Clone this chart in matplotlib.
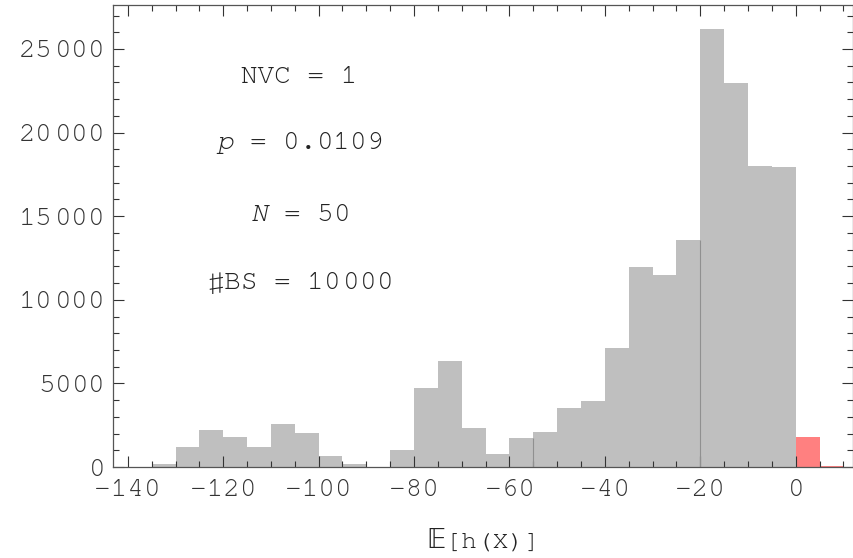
import matplotlib
matplotlib.use("Agg")
import matplotlib.pyplot as plt
from matplotlib.ticker import MultipleLocator, FuncFormatter
import numpy as np

plt.rcParams['font.family'] = ['FreeMono', 'DejaVu Sans']
plt.rcParams['mathtext.fontset'] = 'custom'
plt.rcParams['mathtext.rm'] = 'FreeMono'
plt.rcParams['mathtext.it'] = 'FreeMono:italic'

# Histogram bins (left edges, width 5) and counts
bin_edges = [-140, -135, -130, -125, -120, -115, -110, -105, -100, -95, -90, -85,
             -80, -75, -70, -65, -60, -55, -50, -45, -40, -35, -30, -25, -20,
             -15, -10, -5, 0, 5, 10]
counts = [0, 200, 1200, 2200, 1800, 1200, 2600, 2050, 680, 200, 0, 1000,
          4700, 6340, 2330, 780, 1730, 2090, 3530, 3950, 7120, 11960, 11480, 13580,
          26200, 22970, 18000, 17940, 1790, 60]
highlight_from = 0  # bins with left edge >= 0 are red

labels_text = ["NVC = 1", "$\\it{p}$ = 0.0109", "$\\it{N}$ = 50", "\u266fBS = $10\\,000$"]
text_y = [23300, 19400, 15100, 11000]
text_x = -104

fig = plt.figure(figsize=(8.54, 5.58), dpi=100)
ax = fig.add_axes([113/854, 1-467/558, (853-113)/854, (467-5)/558])

lefts = np.array(bin_edges[:-1], dtype=float)
widths = np.diff(bin_edges)
colors = ['#ff8080' if l >= highlight_from else '#bfbfbf' for l in lefts]
ax.bar(lefts, counts, width=widths, align='edge', color=colors, linewidth=0)

# faint visible edge lines (rendering artifacts in reference)
for e in [-55, -20]:
    i = bin_edges.index(e)
    ax.vlines(e, 0, min(counts[i-1], counts[i]), color='#909090', linewidth=0.8)

ax.set_xlim(-143.1, 12)
ax.set_ylim(0, 27630)

ax.xaxis.set_major_locator(MultipleLocator(20))
ax.xaxis.set_minor_locator(MultipleLocator(5))
ax.yaxis.set_major_locator(MultipleLocator(5000))
ax.yaxis.set_minor_locator(MultipleLocator(1000))

def yfmt(v, pos):
    v = int(round(v))
    if v >= 10000:
        return f"${v//1000}\\,{v%1000:03d}$"
    return f"${v}$"

def xfmt(v, pos):
    v = int(round(v))
    return ("\u2212" + str(-v)) if v < 0 else str(v)

ax.yaxis.set_major_formatter(FuncFormatter(yfmt))
ax.xaxis.set_major_formatter(FuncFormatter(xfmt))

ax.tick_params(which='both', direction='in', top=True, right=True, colors='#333333',
               labelsize=20, width=0.8)
ax.tick_params(which='major', length=8)
ax.tick_params(axis='y', which='major', pad=7)
ax.tick_params(axis='x', which='major', pad=9)
ax.tick_params(which='minor', length=4)
for s in ax.spines.values():
    s.set_color('#555555')
    s.set_linewidth(0.9)

for t, y in zip(labels_text, text_y):
    ax.text(text_x, y, t, ha='center', va='center', fontsize=20, color='#222222')

ax.set_xlabel("\U0001D53C[h(X)]", fontsize=19, color='#222222', labelpad=20)

fig.savefig("out.png", dpi=100)
